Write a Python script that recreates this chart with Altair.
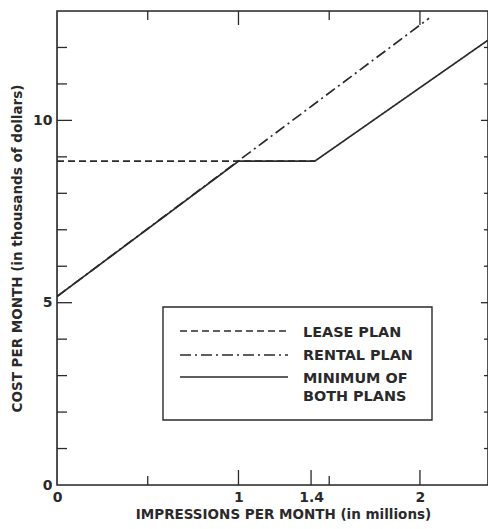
import altair as alt
import pandas as pd

# ---- data ----
lease_x = [0, 1.42]
lease_y = [8.88, 8.88]
rental_x = [0, 2.05]
rental_y = [5.17, 12.8]
min_x = [0, 1, 1.42, 2.375]
min_y = [5.17, 8.88, 8.88, 12.2]

x_labels = [0, 1, 1.4, 2]
y_labels = [0, 5, 10]
bottom_major = [1, 1.4, 2]
bottom_minor = [0.5, 1.5]
top_major = [1, 2]
top_minor = [0.5, 1.5]
left_major = [5, 10]
left_minor = [1, 2, 3, 4, 6, 7, 8, 9, 11, 12]

legend_lease = "LEASE PLAN"
legend_rental = "RENTAL PLAN"
legend_min = ["MINIMUM OF", "BOTH PLANS"]

W, H = 431, 474
INK = "#2a2a2a"
FONT = "DejaVu Sans"

rows = []
for plan, xs_, ys_ in [("lease", lease_x, lease_y), ("rental", rental_x, rental_y), ("minimum", min_x, min_y)]:
    for i, (a, b) in enumerate(zip(xs_, ys_)):
        rows.append({"plan": plan, "x": a, "y": b, "i": i})
df = pd.DataFrame(rows)

xs = alt.Scale(domain=[0, 2.375], nice=False, zero=False)
ys = alt.Scale(domain=[0, 13], nice=False, zero=False)

dash_scale = alt.Scale(domain=["lease", "rental", "minimum"],
                       range=[[7, 4], [11, 4, 2, 4], [1, 0]])

lines = alt.Chart(df).mark_line(color=INK, strokeWidth=1.7, clip=True).encode(
    x=alt.X("x:Q", scale=xs,
            axis=alt.Axis(values=x_labels, format="~g", title="IMPRESSIONS PER MONTH (in millions)",
                          ticks=False, tickSize=0, domain=False, grid=False,
                          labelPadding=5, labelFont=FONT, labelFontSize=14, labelFontWeight="bold",
                          labelColor=INK, labelFlush=False,
                          titleFont=FONT, titleFontSize=13.5, titleFontWeight="bold",
                          titleColor=INK, titlePadding=3, titleX=226)),
    y=alt.Y("y:Q", scale=ys,
            axis=alt.Axis(values=y_labels, format="~g", title="COST PER MONTH (in thousands of dollars)",
                          ticks=False, tickSize=0, domain=False, grid=False,
                          labelPadding=5, labelFont=FONT, labelFontSize=14, labelFontWeight="bold",
                          labelColor=INK, labelFlush=False,
                          titleFont=FONT, titleFontSize=13.5, titleFontWeight="bold",
                          titleColor=INK, titlePadding=8)),
    strokeDash=alt.StrokeDash("plan:N", scale=dash_scale, legend=None),
    detail="plan:N",
    order="i:Q",
)

one = pd.DataFrame({"k": [0]})
frame = alt.Chart(one).mark_rect(fill="transparent", stroke=INK, strokeWidth=1.6).encode(
    x=alt.value(0), x2=alt.value(W), y=alt.value(0), y2=alt.value(H))

def vticks(vals, y0, y1):
    d = pd.DataFrame({"v": vals})
    return alt.Chart(d).mark_rule(color=INK, strokeWidth=1.3).encode(
        x=alt.X("v:Q", scale=xs), y=alt.value(y0), y2=alt.value(y1))

def hticks(vals, x0, x1):
    d = pd.DataFrame({"v": vals})
    return alt.Chart(d).mark_rule(color=INK, strokeWidth=1.3).encode(
        y=alt.Y("v:Q", scale=ys), x=alt.value(x0), x2=alt.value(x1))

ticks = [
    vticks(bottom_major, H, H - 15),
    vticks(bottom_minor, H, H - 9),
    vticks(top_major, 0, 14),
    vticks(top_minor, 0, 9),
    hticks(left_major, 0, 15),
    hticks(left_minor, 0, 10),
    hticks(left_major, W - 7, W),
    hticks(left_minor, W - 4, W),
]

# ---- legend box drawn by hand ----
box = alt.Chart(one).mark_rect(fill="white", stroke=INK, strokeWidth=1.4).encode(
    x=alt.value(106), x2=alt.value(375), y=alt.value(296), y2=alt.value(409))

def lg_line(yy, dash):
    return alt.Chart(one).mark_rule(color=INK, strokeWidth=1.7, strokeDash=dash).encode(
        x=alt.value(123), x2=alt.value(231), y=alt.value(yy))

def lg_text(txt, yy):
    return alt.Chart(pd.DataFrame({"t": [txt]})).mark_text(
        align="left", baseline="middle", font=FONT, fontSize=14.4, fontWeight="bold", color=INK
    ).encode(text="t:N", x=alt.value(246), y=alt.value(yy))

legend_layers = [
    box,
    lg_line(320, [7, 4]),
    lg_line(344, [11, 4, 2, 4]),
    lg_line(366, [1, 0]),
    lg_text(legend_lease, 322),
    lg_text(legend_rental, 345),
    lg_text(legend_min[0], 368),
    lg_text(legend_min[1], 386),
]

chart = alt.layer(lines, frame, *ticks, *legend_layers).properties(
    width=W, height=H,
    autosize=alt.AutoSizeParams(type="none"),
    padding={"left": 49, "top": 3, "right": 0, "bottom": 36},
).configure_view(strokeWidth=0).configure(background="white")

chart.save("out.html", embed_options={"renderer": "svg", "actions": False})
